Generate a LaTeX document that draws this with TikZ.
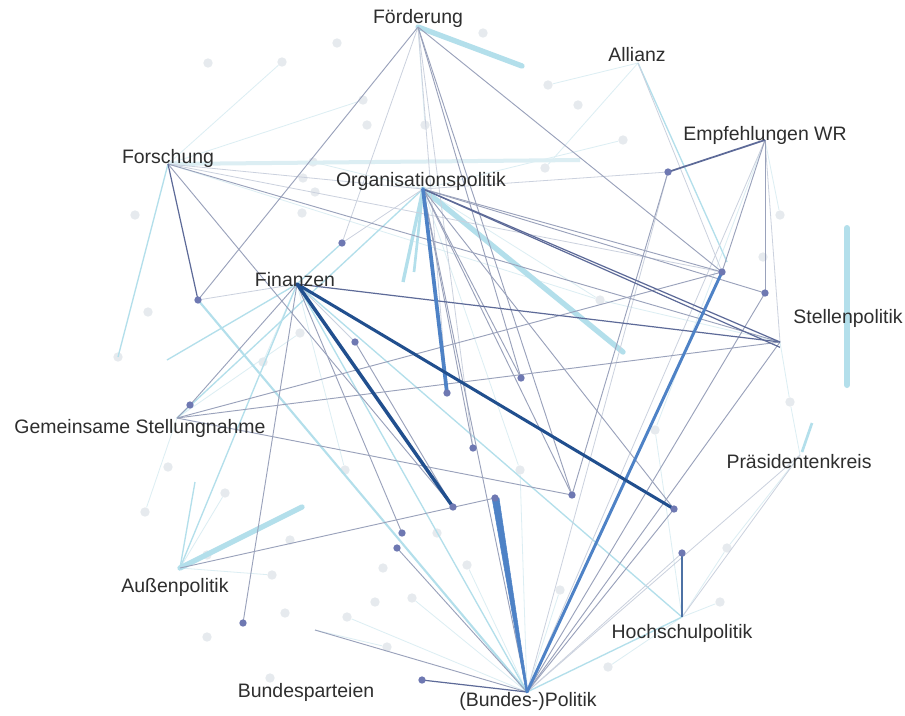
\documentclass[tikz,border=0pt]{standalone}
\usepackage{fontspec}
\setmainfont{Liberation Sans}
\begin{document}
\begin{tikzpicture}[x=0.75pt,y=-0.75pt,
  lbl/.style={font=\fontsize{14.6}{16}\selectfont, text=black!82, inner sep=0pt},
  ddot/.style={circle, fill=dotc, inner sep=0pt, minimum size=5.5pt},
  fdot/.style={circle, fill=faintc, inner sep=0pt, minimum size=7pt},
  gline/.style={draw=grayc, line width=0.7pt},
  lgline/.style={draw=lgrayc, line width=0.6pt},
  dline/.style={draw=darkc, line width=0.9pt},
  cline/.style={draw=cyanc, line width=1pt},
  ccthick/.style={draw=cyanc, line width=4pt, line cap=round},
  fline/.style={draw=fcyan, line width=0.6pt},
  navy/.style={draw=navyc, line width=2.6pt, line cap=round},
  bluet/.style={draw=bluec, line width=2.2pt, line cap=round}
]
\definecolor{dotc}{HTML}{6E78B2}
\definecolor{faintc}{HTML}{E6EAEE}
\definecolor{grayc}{HTML}{9AA2BB}
\definecolor{lgrayc}{HTML}{CBD1DE}
\definecolor{darkc}{HTML}{5D6A98}
\definecolor{cyanc}{HTML}{B3DFEB}
\definecolor{fcyan}{HTML}{DCEEF3}
\definecolor{navyc}{HTML}{214F8E}
\definecolor{bluec}{HTML}{4E82C6}
\fill[white] (0,0) rectangle (905,715);
\path[use as bounding box] (0,0) rectangle (905,715);

% hubs
\coordinate (foe) at (418,27);
\coordinate (all) at (638,63);
\coordinate (emp) at (765,140);
\coordinate (for) at (168,164);
\coordinate (org) at (423,189);
\coordinate (fin) at (297,284);
\coordinate (ste) at (780,342);
\coordinate (gem) at (177,418);
\coordinate (pra) at (800,455);
\coordinate (aus) at (180,568);
\coordinate (hoc) at (682,617);
\coordinate (bpa) at (315,630);
\coordinate (bup) at (527,692);

% intermediate dot positions
\foreach \n/\x/\y in {d1/198/300, d2/342/243, d3/355/342, d4/447/393, d5/521/378,
  d6/473/448, d7/453/507, d8/495/498, d9/572/495, d10/674/509, d11/722/272,
  d12/765/293, d13/668/172, d14/190/405, d15/402/533, d16/397/548, d17/243/623,
  d18/422/680, d19/682/553}
  {\coordinate (\n) at (\x,\y);}

% cyan endpoints
\coordinate (c1) at (522,66);
\coordinate (c2a) at (847,228);
\coordinate (c2b) at (847,385);
\coordinate (c3) at (302,507);
\coordinate (c4) at (623,352);
\coordinate (c5) at (403,282);
\coordinate (c5b) at (414,272);
\coordinate (c6) at (195,482);
\coordinate (c7a) at (812,423);
\coordinate (c7b) at (802,452);
\coordinate (c8) at (727,262);
\coordinate (c9) at (167,360);
\coordinate (c10) at (118,357);
\coordinate (c11) at (580,160);

% faint dots
\foreach \n/\x/\y in {f1/208/63, f2/282/62, f3/337/43, f4/363/100, f5/367/125,
  f6/313/162, f7/303/178, f8/315/192, f9/302/213, f10/135/215, f11/148/312,
  f12/300/333, f13/548/85, f14/578/105, f15/623/140, f16/545/168, f17/780/215,
  f18/763/257, f19/483/33, f20/168/467, f21/145/512, f22/225/493, f23/207/637,
  f24/272/575, f25/207/555, f26/290/540, f27/285/613, f28/347/617, f29/375/602,
  f30/387/647, f31/412/598, f32/437/533, f33/467/565, f34/270/678, f35/383/568,
  f36/790/402, f37/727/548, f38/720/602, f39/608/667, f40/263/362, f41/520/470,
  f42/118/357, f43/425/125, f44/600/300, f45/655/430, f46/560/590, f47/345/470}
  {\node[fdot] (\n) at (\x,\y) {};}

% very faint lines
\path[fline] (for) -- (f4);
\path[fline] (for) -- (f2);
\path[fline] (all) -- (f13);
\path[fline] (all) -- (f16);
\path[fline] (for) -- (f44);
\path[fline] (org) -- (f6);
\path[fline] (fin) -- (f40);
\path[fline] (bup) -- (f31);
\path[fline] (bup) -- (f46);
\path[fline] (hoc) -- (f37);
\path[fline] (hoc) -- (f38);
\path[fline] (ste) -- (f36);
\path[fline] (emp) -- (f17);
\path[fline] (bpa) -- (f30);
\path[fline] (aus) -- (f24);
\path[fline] (gem) -- (f21);
\path[fline] (org) -- (f44);
\path[fline] (emp) -- (f45);
\path[fline] (pra) -- (f36);
\path[fline] (hoc) -- (f45);
\path[fline] (bup) -- (f33);
\path[fline] (bup) -- (f41);
\path[fline] (fin) -- (f47);
\path[fline] (org) -- (f41);
\path[fline] (ste) -- (f44);
\path[fline] (pra) -- (f37);
\path[fline] (aus) -- (f22);
\path[fline] (gem) -- (f12);
\path[fline] (foe) -- (f43);
\path[fline] (org) -- (f15);
\path[fline] (hoc) -- (f39);
\path[fline] (bup) -- (f28);
\path[draw=fcyan, line width=3pt] (for) -- (c11);

% light cyan lines
\path[cline] (for) -- (c10);
\path[cline] (fin) -- (c9);
\path[cline] (aus) -- (c6);
\path[cline] (all) -- (c8);
\path[cline] (fin) -- (d2);
\path[cline] (fin) -- (bup);
\path[cline] (fin) -- (hoc);
\path[cline, line width=1.6pt] (d1) -- (bup);
\path[cline] (bup) -- (hoc);
\path[cline] (org) -- (gem);
\path[cline] (aus) -- (fin);
\path[cline, line width=2.5pt] (org) -- (c5);
\path[cline, line width=2pt] (org) -- (c5b);
\path[ccthick] (org) -- (c4);
\path[ccthick] (foe) -- (c1);
\path[ccthick, line width=4.5pt] (c2a) -- (c2b);
\path[ccthick] (aus) -- (c3);
\path[cline, line width=2pt] (c7a) -- (c7b);

% light gray lines
\path[lgline] (foe) -- (d2);
\path[lgline] (foe) -- (d6);
\path[lgline] (foe) -- (d4);
\path[lgline] (for) -- (d11);
\path[lgline] (org) -- (d13);
\path[lgline] (org) -- (d2);
\path[lgline] (org) -- (for);
\path[lgline] (fin) -- (d1);
\path[lgline] (fin) -- (d3);
\path[lgline] (emp) -- (ste);
\path[lgline] (emp) -- (bup);
\path[lgline] (d13) -- (bup);
\path[lgline] (bup) -- (d19);
\path[lgline] (bup) -- (pra);
\path[lgline] (hoc) -- (pra);
\path[lgline] (all) -- (d11);

% gray lines
\path[gline] (foe) -- (d1);
\path[gline] (foe) -- (d11);
\path[gline] (foe) -- (d5);
\path[gline] (foe) -- (d9);
\path[gline] (for) -- (d7);
\path[gline] (for) -- (ste);
\path[gline] (org) -- (d11);
\path[gline] (org) -- (d12);
\path[gline] (org) -- (d5);
\path[gline] (org) -- (d9);
\path[gline] (org) -- (d6);
\path[gline] (org) -- (d10);
\path[gline] (org) -- (bup);
\path[gline] (fin) -- (d14);
\path[gline] (fin) -- (d17);
\path[gline] (fin) -- (d15);
\path[gline] (gem) -- (d11);
\path[gline] (gem) -- (d9);
\path[gline] (gem) -- (ste);
\path[gline] (gem) -- (d14);
\path[gline] (bup) -- (ste);
\path[gline] (bup) -- (d12);
\path[gline] (bup) -- (d10);
\path[gline] (bup) -- (d16);
\path[gline] (bup) -- (bpa);
\path[gline] (emp) -- (d12);
\path[gline] (emp) -- (d11);
\path[gline] (aus) -- (d8);
\path[gline] (d13) -- (d9);
\path[gline] (d3) -- (d7);

% dark lines
\path[dline] (for) -- (d1);
\path[dline] (org) -- (ste);
\path[dline] (org) -- ([yshift=-4]ste);
\path[dline] (fin) -- (ste);
\path[dline, line width=1.3pt] (emp) -- (d13);
\path[dline] (bup) -- (d18);

% strong lines
\path[draw=bluec, line width=2.8pt, line cap=round] (org) -- (d4);
\path[bluet] (bup) -- (d11);
\path[draw=bluec, line cap=round, fill=bluec] (492,498) -- (499,498) -- (528,692) -- (526,692) -- cycle;
\path[navy] (fin) -- (d7);
\path[navy, line width=2.3pt] (fin) -- (d10);
\path[draw=navyc!80, line width=1.6pt] (hoc) -- (d19);

% dark dots
\foreach \n in {1,...,19}
  {\node[ddot] (n\n) at (d\n) {};}

% labels
\node[lbl] (Lfoe) at (418,18) {Förderung};
\node[lbl] (Lall) at (637,55) {Allianz};
\node[lbl] (Lemp) at (765,135) {Empfehlungen WR};
\node[lbl] (Lfor) at (168,158) {Forschung};
\node[lbl] (Lorg) at (421,181) {Organisationspolitik};
\node[lbl] (Lfin) at (295,280) {Finanzen};
\node[lbl] (Lste) at (848,318) {Stellenpolitik};
\node[lbl] (Lgem) at (140,428) {Gemeinsame Stellungnahme};
\node[lbl] (Lpra) at (799,462) {Präsidentenkreis};
\node[lbl] (Laus) at (175,587) {Außenpolitik};
\node[lbl] (Lhoc) at (682,633) {Hochschulpolitik};
\node[lbl] (Lbpa) at (306,692) {Bundesparteien};
\node[lbl] (Lbup) at (528,701) {(Bundes-)Politik};
\end{tikzpicture}
\end{document}
